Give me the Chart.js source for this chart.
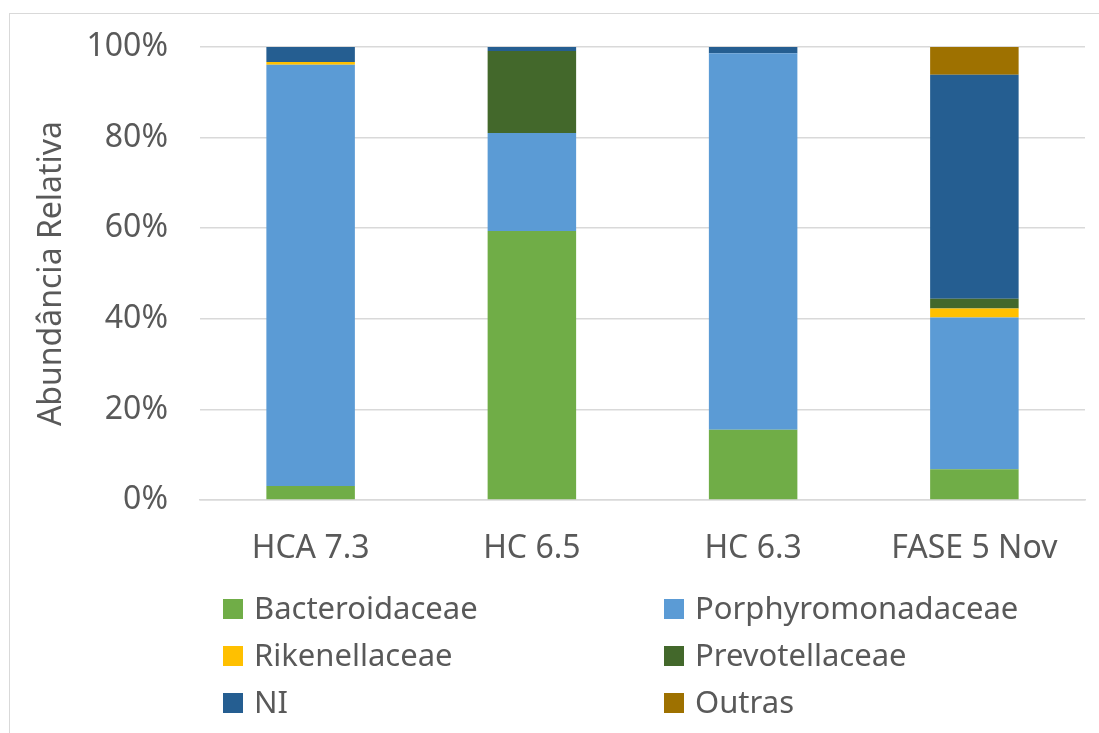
<!DOCTYPE html>
<html>
<head>
<meta charset="utf-8">
<script src="https://cdn.jsdelivr.net/npm/chart.js@4/dist/chart.umd.min.js"></script>
<style>
  html, body { margin: 0; padding: 0; background: #fff; overflow: hidden; }
  #frame { position: absolute; left: 9px; top: 13px; width: 1100px; height: 740px; border: 1.5px solid #d9d9d9; box-sizing: border-box; }
  #wrap { position: absolute; left: 0; top: 0; width: 1099px; height: 733px; }
</style>
</head>
<body>
<div id="frame"></div>
<div id="wrap"><canvas id="c" width="1099" height="733"></canvas></div>
<script>
// Relative abundance of bacterial families per sample (%)
const categories = ['HCA 7.3', 'HC 6.5', 'HC 6.3', 'FASE 5 Nov'];
const bacteroidaceae     = [3.1, 59.4, 15.5, 6.8];
const porphyromonadaceae = [93.0, 21.6, 83.1, 33.5];
const rikenellaceae      = [0.6, 0, 0, 2.0];
const prevotellaceae     = [0, 18.1, 0, 2.1];
const ni                 = [3.3, 0.9, 1.4, 49.5];
const outras             = [0, 0, 0, 6.1];
const yTicks = [0, 20, 40, 60, 80, 100];

const FONT = '"Noto Sans", "Open Sans", sans-serif';
const TEXT = '#595959';

const series = [
  { label: 'Bacteroidaceae',     data: bacteroidaceae,     color: '#70AD47' },
  { label: 'Porphyromonadaceae', data: porphyromonadaceae, color: '#5B9BD5' },
  { label: 'Rikenellaceae',      data: rikenellaceae,      color: '#FFC000' },
  { label: 'Prevotellaceae',     data: prevotellaceae,     color: '#43682B' },
  { label: 'NI',                 data: ni,                 color: '#255E91' },
  { label: 'Outras',             data: outras,             color: '#9E7100' }
];

// Two-column legend below the plot
const gridLegend = {
  id: 'gridLegend',
  afterDraw(chart) {
    const ctx = chart.ctx;
    const colX = [223, 664];
    const rowY = [609, 656, 703];
    ctx.save();
    ctx.font = '31px ' + FONT;
    ctx.textBaseline = 'middle';
    ctx.textAlign = 'left';
    chart.data.datasets.forEach((ds, i) => {
      const x = colX[i % 2];
      const y = rowY[Math.floor(i / 2)];
      ctx.fillStyle = ds.backgroundColor;
      ctx.fillRect(x, y - 10, 20, 20);
      ctx.fillStyle = TEXT;
      ctx.fillText(ds.label, x + 31, y + 1);
    });
    ctx.restore();
  }
};

new Chart(document.getElementById('c'), {
  type: 'bar',
  data: {
    labels: categories,
    datasets: series.map(s => ({
      label: s.label,
      data: s.data,
      backgroundColor: s.color,
      borderWidth: 0,
      categoryPercentage: 1,
      barPercentage: 0.4
    }))
  },
  options: {
    responsive: false,
    animation: false,
    layout: { padding: { top: 47, right: 14, bottom: 0, left: 0 } },
    plugins: { legend: { display: false }, tooltip: { enabled: false } },
    scales: {
      x: {
        stacked: true,
        grid: { display: false, drawTicks: false },
        border: { color: '#d9d9d9', width: 1.5 },
        ticks: { color: TEXT, font: { family: FONT, size: 32 }, padding: 30, maxRotation: 0 },
        afterFit(scale) { scale.height = 233; }
      },
      y: {
        stacked: true,
        min: 0,
        max: 100,
        afterBuildTicks(scale) { scale.ticks = yTicks.map(v => ({ value: v })); },
        grid: { color: '#d9d9d9', lineWidth: 1.5, drawTicks: false },
        border: { display: false },
        ticks: {
          color: TEXT,
          font: { family: FONT, size: 32 },
          padding: 32,
          callback: v => v + '%'
        },
        title: {
          display: true,
          text: 'Abundância Relativa',
          color: TEXT,
          font: { family: FONT, size: 32 },
          padding: { top: 33, bottom: 0 }
        },
        afterFit(scale) {
          scale.width = 200;
          // the layout padding alone sets the plot's top edge
          scale.paddingTop = 0;
          scale.paddingBottom = 0;
        }
      }
    }
  },
  plugins: [gridLegend]
});
</script>
</body>
</html>
